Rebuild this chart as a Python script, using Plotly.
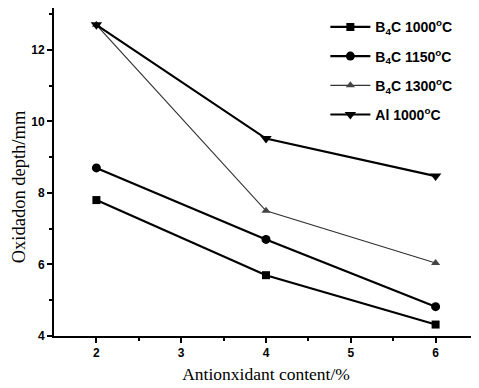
import plotly.graph_objects as go

content = [2, 4, 6]
b4c_1000 = [7.8, 5.7, 4.32]
b4c_1150 = [8.7, 6.7, 4.82]
b4c_1300 = [12.7, 7.5, 6.04]
al_1000 = [12.7, 9.52, 8.47]

names = ["B<sub>4</sub>C 1000<sup>o</sup>C", "B<sub>4</sub>C 1150<sup>o</sup>C",
         "B<sub>4</sub>C 1300<sup>o</sup>C", "Al 1000<sup>o</sup>C"]

fig = go.Figure()
fig.add_trace(go.Scatter(x=content, y=b4c_1000, name=names[0], mode="lines+markers", legendgroup="a",
                         line=dict(color="black", width=2.2),
                         marker=dict(symbol="square", size=8, color="black")))
fig.add_trace(go.Scatter(x=content, y=b4c_1150, name=names[1], mode="lines+markers", legendgroup="b",
                         line=dict(color="black", width=2.2),
                         marker=dict(symbol="circle", size=9, color="black")))
fig.add_trace(go.Scatter(x=content, y=b4c_1300, name=names[2], mode="lines+markers", legendgroup="c",
                         line=dict(color="#333333", width=1.2),
                         marker=dict(symbol="triangle-up", size=8, color="#444444")))
fig.add_trace(go.Scatter(x=content, y=al_1000, name=names[3], mode="lines+markers", legendgroup="d",
                         line=dict(color="black", width=2.2),
                         marker=dict(symbol="triangle-down", size=10, color="black")))

axis_common = dict(showline=True, linecolor="black", linewidth=2, mirror=True,
                   ticks="outside", tickwidth=1.5, ticklen=5, tickcolor="black",
                   showgrid=False, zeroline=False, automargin=False,
                   tickfont=dict(family="Liberation Sans", size=12, color="black", weight="bold"))

fig.update_xaxes(range=[1.5, 6.5], tickvals=[2, 3, 4, 5, 6],
                 minor=dict(tickvals=[2.5, 3.5, 4.5, 5.5], ticks="outside", ticklen=3, tickcolor="black"),
                 title=dict(text="Antionxidant content/%", standoff=8,
                            font=dict(family="Liberation Serif", size=17.5, color="black")),
                 **axis_common)
fig.update_yaxes(range=[4, 13.17], tickvals=[4, 6, 8, 10, 12],
                 minor=dict(tickvals=[5, 7, 9, 11, 13], ticks="outside", ticklen=3, tickcolor="black"),
                 **axis_common)

fig.add_annotation(text="Oxidadon depth/mm", textangle=-90, showarrow=False,
                   xref="paper", yref="paper", x=-0.082, y=0.454,
                   xanchor="center", yanchor="middle",
                   font=dict(family="Liberation Serif", size=18.5, color="black"))

fig.update_layout(
    width=471, height=380,
    margin=dict(l=46, r=1, t=0, b=52),
    plot_bgcolor="white", paper_bgcolor="white",
    legend=dict(x=0.64, y=0.99, xanchor="left", yanchor="top",
                bgcolor="rgba(0,0,0,0)", borderwidth=0,
                font=dict(family="Liberation Sans", size=14, color="black", weight="bold"),
                itemwidth=40, tracegroupgap=8),
)

fig.write_html("out.html")
